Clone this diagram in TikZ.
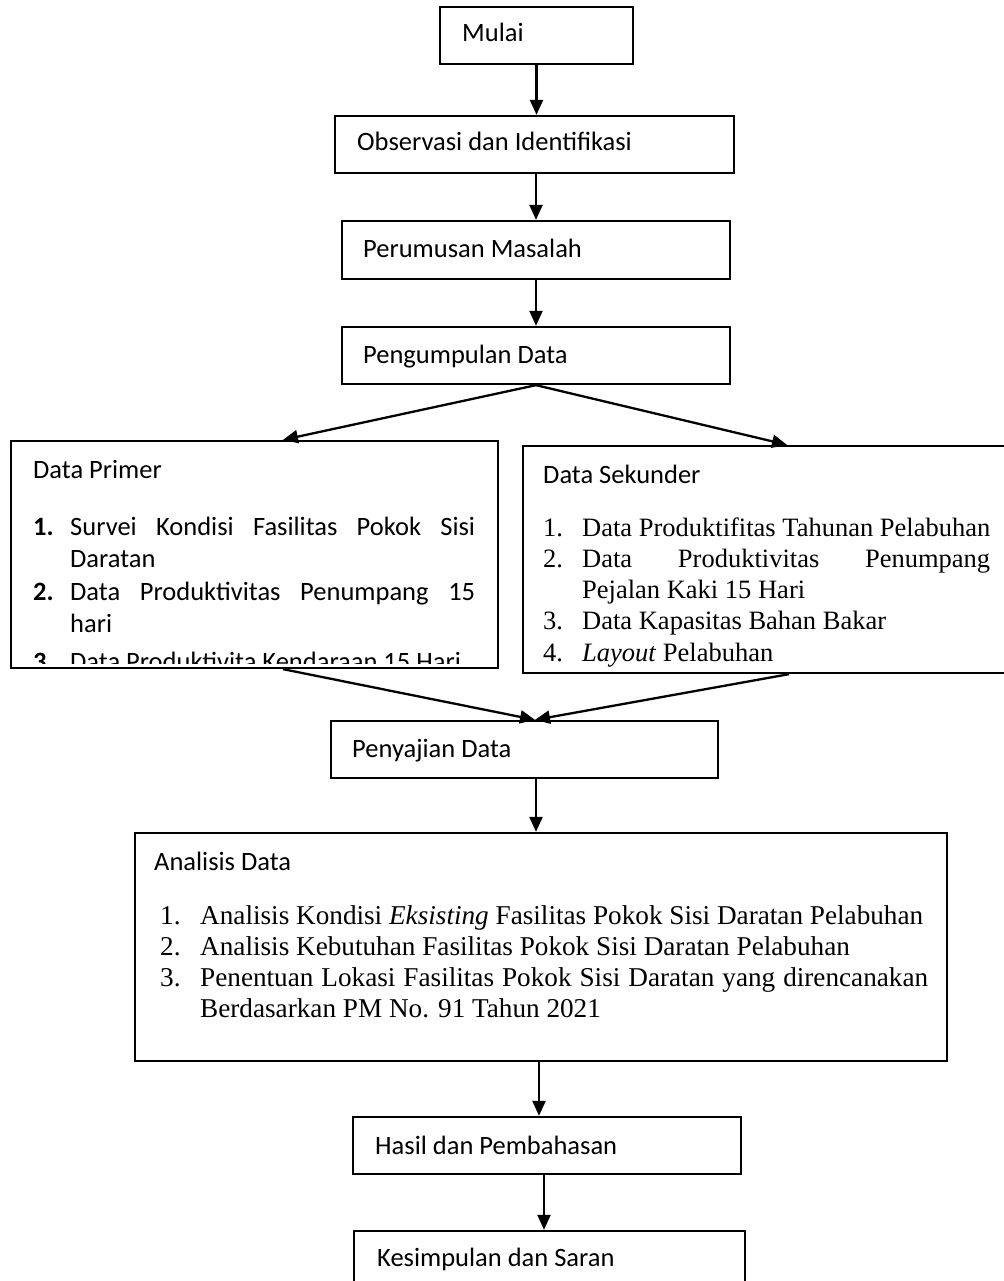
\documentclass[tikz,border=0pt]{standalone}
\usepackage{fontspec}
\setmainfont{Carlito}
\newfontfamily\tms{Liberation Serif}
\usetikzlibrary{arrows.meta}
\begin{document}
\begin{tikzpicture}[x=1pt,y=-1pt,
  box/.style={draw, line width=2.3pt, rectangle, inner sep=0pt},
  txt/.style={anchor=base west, inner sep=0pt, font=\fontsize{26.5}{31}\selectfont},
  ser/.style={anchor=base west, inner sep=0pt, font=\fontsize{26.5}{31}\selectfont\tms},
  sera/.style={anchor=base west, inner sep=0pt, font=\fontsize{27.2}{31}\selectfont\tms},
  arr/.style={line width=2.3pt, -{Triangle[length=15pt,width=13pt]}}]
\useasboundingbox (0,0) rectangle (1003,1281);
\fill[white] (0,0) rectangle (1003,1281);

% boxes
\node[box, minimum width=193pt, minimum height=57pt] (mulai) at (536.5,35.5) {};
\node[box, minimum width=399pt, minimum height=57pt] (obs) at (534.5,144.5) {};
\node[box, minimum width=388pt, minimum height=58pt] (rumus) at (536,250) {};
\node[box, minimum width=388pt, minimum height=57pt] (kumpul) at (536,355.5) {};
\node[box, minimum width=487pt, minimum height=227pt] (primer) at (254.5,554.5) {};
\node[box, minimum width=489pt, minimum height=227pt] (sekunder) at (767.5,559.5) {};
\node[box, minimum width=387pt, minimum height=57pt] (sajian) at (524.5,749.5) {};
\node[box, minimum width=812pt, minimum height=228pt] (analisis) at (541,947) {};
\node[box, minimum width=388pt, minimum height=57pt] (hasil) at (547,1145.5) {};
\node[box, minimum width=391pt, minimum height=57pt] (kesimpulan) at (549.5,1259.5) {};

% simple labels
\node[txt] (tmulai) at (462,42) {Mulai};
\node[txt] (tobs) at (357,151) {Observasi dan Identifikasi};
\node[txt] (trumus) at (363,258) {Perumusan Masalah};
\node[txt] (tkumpul) at (363,363) {Pengumpulan Data};
\node[txt] (tsajian) at (352,757) {Penyajian Data};
\node[txt] (thasil) at (375,1154) {Hasil dan Pembahasan};
\node[txt] (tkes) at (377,1266) {Kesimpulan dan Saran};

% Data Primer
\begin{scope}
\clip ([yshift=6pt]primer.south west) rectangle (primer.north east);
\node[txt] (tprimer) at (33,478) {Data Primer};
\node[txt] (p1n) at (33,535) {\textbf{1.}};
\node[txt] (p1a) at (70,535) {\makebox[405pt][s]{Survei Kondisi Fasilitas Pokok Sisi}};
\node[txt] (p1b) at (70,567) {Daratan};
\node[txt] (p2n) at (33,600) {\textbf{2.}};
\node[txt] (p2a) at (70,600) {\makebox[405pt][s]{Data Produktivitas Penumpang 15}};
\node[txt] (p2b) at (70,632) {hari};
\node[txt] (p3n) at (33,670) {\textbf{3.}};
\node[txt] (p3a) at (70,670) {Data Produktivita Kendaraan 15 Hari};
\end{scope}

% Data Sekunder
\begin{scope}
\clip ([yshift=4pt]sekunder.south west) rectangle (sekunder.north east);
\node[txt] (tsek) at (543,483) {Data Sekunder};
\node[ser] (s1n) at (543,536) {1.};
\node[ser] (s1a) at (582,536) {Data Produktifitas Tahunan Pelabuhan};
\node[ser] (s2n) at (543,567) {2.};
\node[ser] (s2a) at (582,567) {\makebox[408pt][s]{Data Produktivitas Penumpang}};
\node[ser] (s2b) at (582,598) {Pejalan Kaki 15 Hari};
\node[ser] (s3n) at (543,629) {3.};
\node[ser] (s3a) at (582,629) {Data Kapasitas Bahan Bakar};
\node[ser] (s4n) at (543,661) {4.};
\node[ser] (s4a) at (582,661) {\textit{Layout} Pelabuhan};
\end{scope}

% Analisis Data
\node[txt] (tana) at (154,870) {Analisis Data};
\node[sera] (a1n) at (160,924) {1.};
\node[sera] (a1a) at (200,924) {Analisis Kondisi \textit{Eksisting} Fasilitas Pokok Sisi Daratan Pelabuhan};
\node[sera] (a2n) at (160,955) {2.};
\node[sera] (a2a) at (200,955) {Analisis Kebutuhan Fasilitas Pokok Sisi Daratan Pelabuhan};
\node[sera] (a3n) at (160,986) {3.};
\node[sera] (a3a) at (200,986) {\makebox[728pt][s]{Penentuan Lokasi Fasilitas Pokok Sisi Daratan yang direncanakan}};
\node[sera] (a3b) at (200,1017) {Berdasarkan PM No. 91 Tahun 2021};

% connectors
\draw[arr] (mulai.south) -- (mulai.south |- obs.north);
\draw[arr] (rumus.north |- obs.south) -- (rumus.north);
\draw[arr] (rumus.south) -- (kumpul.north);
\draw[arr] (kumpul.south) -- ([xshift=28.5pt]primer.north);
\draw[arr] (kumpul.south) -- ([xshift=19.5pt]sekunder.north);
\draw[arr] ([xshift=28.5pt]primer.south) -- ([xshift=10.5pt]sajian.north);
\draw[arr] ([xshift=21.5pt]sekunder.south) -- ([xshift=10.5pt]sajian.north);
\draw[arr] ([xshift=11.5pt]sajian.south) -- ([xshift=11.5pt]sajian.south |- analisis.north);
\draw[arr] ([xshift=-2pt]analisis.south) -- ([xshift=-2pt]analisis.south |- hasil.north);
\draw[arr] ([xshift=-3pt]hasil.south) -- ([xshift=-3pt]hasil.south |- kesimpulan.north);
\end{tikzpicture}
\end{document}
